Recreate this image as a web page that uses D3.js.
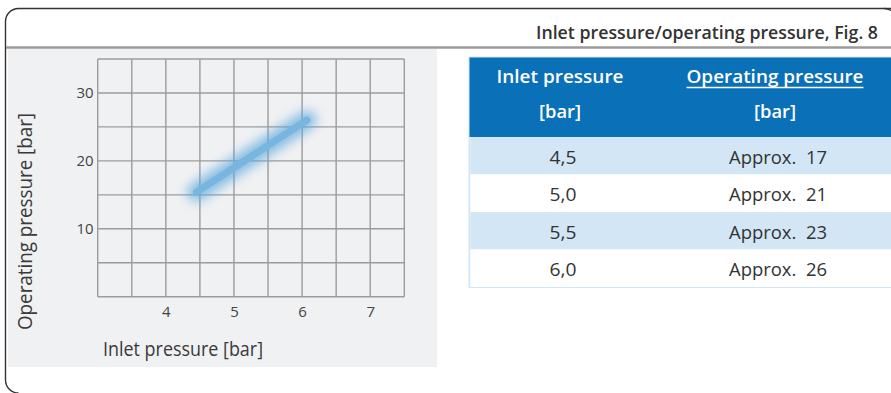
<!DOCTYPE html>
<html>
<head>
<meta charset="utf-8">
<script src="https://cdn.jsdelivr.net/npm/d3@7"></script>
<style>
  html, body { margin: 0; padding: 0; background: #fff; }
  svg { display: block; }
  text { font-family: "Open Sans", "Noto Sans", sans-serif; }
</style>
</head>
<body>
<svg id="fig" width="891" height="393"></svg>
<script>
// Axis ticks
const inletTicks = [4, 5, 6, 7];
const operatingTicks = [10, 20, 30];

// Characteristic line (inlet pressure -> operating pressure)
const curveInlet = [4.45, 6.07];
const curveOperating = [15.4, 26.0];

// Table values
const tableInlet = ["4,5", "5,0", "5,5", "6,0"];
const tableOperating = [17, 21, 23, 26];

const titleText = "Inlet pressure/operating pressure, Fig. 8";

const svg = d3.select("#fig");

const defs = svg.append("defs");
defs.append("filter")
  .attr("id", "glow")
  .attr("x", "-40%").attr("y", "-40%")
  .attr("width", "180%").attr("height", "180%")
  .append("feGaussianBlur")
  .attr("stdDeviation", 5.5);

// Outer frame with rounded corners
svg.append("path")
  .attr("d", "M 891 8.5 L 18.5 8.5 A 13 13 0 0 0 5.5 21.5 L 5.5 380 A 13 13 0 0 0 18.5 393")
  .attr("fill", "none")
  .attr("stroke", "#333")
  .attr("stroke-width", 1.4);
svg.append("path")
  .attr("d", "M 884 8.5 A 13 13 0 0 1 891 10.5")
  .attr("fill", "none")
  .attr("stroke", "#333")
  .attr("stroke-width", 1.4);

// Header separator
svg.append("line")
  .attr("x1", 6).attr("x2", 891)
  .attr("y1", 47.5).attr("y2", 47.5)
  .attr("stroke", "#9b9b9b")
  .attr("stroke-width", 2.4);

svg.append("text")
  .attr("x", 878).attr("y", 39)
  .attr("text-anchor", "end")
  .attr("font-size", 17.5)
  .attr("font-weight", 600)
  .attr("fill", "#333")
  .attr("textLength", 342)
  .attr("lengthAdjust", "spacingAndGlyphs")
  .text(titleText);

// Chart panel
svg.append("rect")
  .attr("x", 8).attr("y", 49)
  .attr("width", 429).attr("height", 318)
  .attr("fill", "#f0f1f3");

const x = d3.scaleLinear().domain([3, 7.5]).range([97.7, 404.3]);
const y = d3.scaleLinear().domain([0, 35]).range([296.7, 59]);

// Grid
const grid = svg.append("g")
  .attr("stroke", "#9c9c9c")
  .attr("stroke-width", 1.4);
grid.selectAll("line.v")
  .data(d3.range(3, 7.51, 0.5))
  .join("line")
  .attr("class", "v")
  .attr("x1", d => x(d)).attr("x2", d => x(d))
  .attr("y1", y(0)).attr("y2", y(35));
grid.selectAll("line.h")
  .data(d3.range(0, 35.1, 5))
  .join("line")
  .attr("class", "h")
  .attr("y1", d => y(d)).attr("y2", d => y(d))
  .attr("x1", x(3)).attr("x2", x(7.5));

// Tick labels
const xAxis = svg.append("g")
  .attr("transform", `translate(0,${y(0)})`)
  .call(d3.axisBottom(x).tickValues(inletTicks).tickSize(0).tickPadding(10).tickFormat(d3.format("d")));
const yAxis = svg.append("g")
  .attr("transform", `translate(${x(3)},0)`)
  .call(d3.axisLeft(y).tickValues(operatingTicks).tickSize(0).tickPadding(4).tickFormat(d3.format("d")));
[xAxis, yAxis].forEach(a => {
  a.select(".domain").remove();
  a.selectAll("text")
    .attr("font-family", "'Open Sans', sans-serif")
    .attr("font-size", 15)
    .attr("fill", "#444");
});

// Characteristic line with soft glow
const pts = curveInlet.map((v, i) => [x(v), y(curveOperating[i])]);
const lineGen = d3.line();
svg.append("path")
  .attr("d", lineGen(pts))
  .attr("fill", "none")
  .attr("stroke", "#5aa8dc")
  .attr("stroke-width", 19)
  .attr("stroke-linecap", "round")
  .attr("opacity", 0.7)
  .attr("filter", "url(#glow)");
svg.append("path")
  .attr("d", lineGen(pts))
  .attr("fill", "none")
  .attr("stroke", "#78b6df")
  .attr("stroke-width", 7)
  .attr("stroke-linecap", "round");

// Axis titles
svg.append("text")
  .attr("x", 103).attr("y", 356)
  .attr("font-size", 20)
  .attr("font-weight", 400)
  .attr("fill", "#3a3a3a")
  .attr("textLength", 160)
  .attr("lengthAdjust", "spacingAndGlyphs")
  .text("Inlet pressure [bar]");
svg.append("text")
  .attr("transform", "translate(32,330) rotate(-90)")
  .attr("font-size", 20)
  .attr("font-weight", 400)
  .attr("fill", "#3a3a3a")
  .attr("textLength", 217)
  .attr("lengthAdjust", "spacingAndGlyphs")
  .text("Operating pressure [bar]");

// Table
const tX = 469.5, tW = 430, col1C = 560, col2C = 775;
const headTop = 57.5, headH = 79.5, rowH = 37.5;
const table = svg.append("g");

table.append("rect")
  .attr("x", tX).attr("y", headTop)
  .attr("width", tW).attr("height", headH + rowH * tableInlet.length)
  .attr("fill", "#fff")
  .attr("stroke", "#d3e6f5")
  .attr("stroke-width", 2);

table.append("rect")
  .attr("x", tX).attr("y", headTop)
  .attr("width", tW).attr("height", headH)
  .attr("fill", "#0a70b8");

const headText = [
  { x: col1C, y: 83, t: "Inlet pressure", w: 127 },
  { x: col1C, y: 118, t: "[bar]", w: 42 },
  { x: col2C, y: 83, t: "Operating pressure", w: 177 },
  { x: col2C, y: 118, t: "[bar]", w: 42 }
];
table.selectAll("text.head")
  .data(headText)
  .join("text")
  .attr("class", "head")
  .attr("x", d => d.x).attr("y", d => d.y)
  .attr("text-anchor", "middle")
  .attr("font-size", 18.5)
  .attr("font-weight", 600)
  .attr("fill", "#fff")
  .attr("textLength", d => d.w)
  .attr("lengthAdjust", "spacingAndGlyphs")
  .text(d => d.t);
table.append("line")
  .attr("x1", col2C - 88.5).attr("x2", col2C + 88.5)
  .attr("y1", 87.5).attr("y2", 87.5)
  .attr("stroke", "#fff")
  .attr("stroke-width", 1.5);

const rows = table.selectAll("g.row")
  .data(tableInlet.map((v, i) => ({ inlet: v, op: tableOperating[i], i })))
  .join("g")
  .attr("class", "row")
  .attr("transform", d => `translate(0,${headTop + headH + d.i * rowH})`);
rows.append("rect")
  .attr("x", tX + 1).attr("y", 0)
  .attr("width", tW).attr("height", rowH)
  .attr("fill", d => d.i % 2 === 0 ? "#d2e6f6" : "#fff");
rows.append("text")
  .attr("x", col1C + 3).attr("y", rowH / 2 + 8)
  .attr("text-anchor", "middle")
  .attr("font-size", 19)
  .attr("font-weight", 400)
  .attr("fill", "#333")
  .attr("textLength", 27)
  .attr("lengthAdjust", "spacingAndGlyphs")
  .text(d => d.inlet);
rows.append("text")
  .attr("x", col2C + 3).attr("y", rowH / 2 + 8)
  .attr("text-anchor", "middle")
  .attr("font-size", 19)
  .attr("font-weight", 400)
  .attr("fill", "#333")
  .attr("textLength", 98)
  .attr("lengthAdjust", "spacingAndGlyphs")
  .text(d => "Approx.\u00a0 " + d.op);
</script>
</body>
</html>
